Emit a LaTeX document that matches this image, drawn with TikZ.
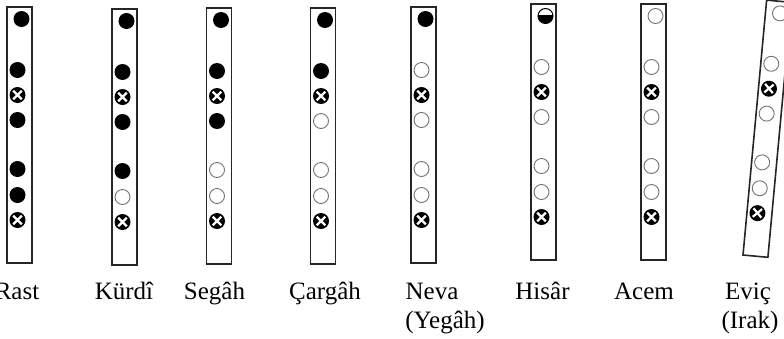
\documentclass[tikz,border=0pt]{standalone}
\usepackage{fontspec}
\setmainfont{Liberation Serif}
\tikzset{
  tube/.style={draw=black!85, line width=1.6pt, minimum width=25pt, minimum height=256pt,
    inner sep=0pt, outer sep=0pt, anchor=north west},
  hole/.style={circle, minimum size=16pt, inner sep=0pt, outer sep=0pt},
  holeO/.style={hole, draw=black!55, line width=0.9pt, fill=white, minimum size=15pt},
  holeF/.style={hole, fill=black},
  holeX/.style={hole, fill=black, path picture={
    \draw[white, line width=2.2pt]
      ([shift={(-4.3pt,-4.3pt)}]path picture bounding box.center) --
      ([shift={(4.3pt,4.3pt)}]path picture bounding box.center)
      ([shift={(-4.3pt,4.3pt)}]path picture bounding box.center) --
      ([shift={(4.3pt,-4.3pt)}]path picture bounding box.center);}},
  holeH/.style={hole, draw=black, line width=1pt, fill=white, minimum size=15pt, path picture={
    \fill[black] ([yshift=1pt]path picture bounding box.west) rectangle (path picture bounding box.south east);}},
  lbl/.style={anchor=base, inner sep=0pt, font=\fontsize{25}{29}\selectfont}
}
\newcommand\drawflute[4]{%
  \node[tube] (#1) at (#2,#3) {};
  \foreach \p [count=\k] in {#4}{%
    \pgfmathsetmacro\dy{{12,63,88,113,162,188,213}[\k-1]}%
    \pgfmathsetmacro\dx{\k==1 ? 14.5 : 10.5}%
    \node[hole\p] (#1-\k) at ({#2+\dx},{#3+\dy}) {};
  }%
}
\begin{document}
\begin{tikzpicture}[x=1pt,y=-1pt]
\useasboundingbox (0,0) rectangle (784,338);
\clip (0,0) rectangle (784,338);

\drawflute{t1}{7}{7}{F,F,X,F,F,F,X}
\drawflute{t2}{112}{9}{F,F,X,F,F,O,X}
\drawflute{t3}{206.5}{8}{F,F,X,F,O,O,X}
\drawflute{t4}{310.5}{8}{F,F,X,O,O,O,X}
\drawflute{t5}{411}{7}{F,O,X,O,O,O,X}
\drawflute{t6}{531}{4}{H,O,X,O,O,O,X}
\drawflute{t7}{641}{4}{O,O,X,O,O,O,X}
\begin{scope}[shift={(743,255)}, rotate=-5.3, transform shape]
  \drawflute{t8}{0}{-256}{O,O,X,O,O,O,X}
\end{scope}

\node[lbl] (l1) at (17,299) {Rast};
\node[lbl] (l2) at (124,299) {Kürdî};
\node[lbl] (l3) at (214.5,299) {Segâh};
\node[lbl] (l4) at (325,299) {Çargâh};
\node[lbl] (l5) at (432,299) {Neva};
\node[lbl] (l5b) at (445,328) {(Yegâh)};
\node[lbl] (l6) at (542.5,299) {Hisâr};
\node[lbl] (l7) at (644,299) {Acem};
\node[lbl] (l8) at (748,299) {Eviç};
\node[lbl] (l8b) at (750,328) {(Irak)};
\end{tikzpicture}
\end{document}
